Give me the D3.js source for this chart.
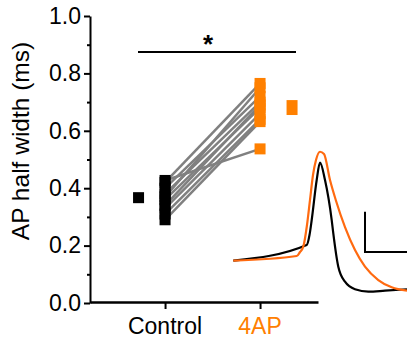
<!DOCTYPE html>
<html><head><meta charset="utf-8">
<script src="https://cdn.jsdelivr.net/npm/d3@7"></script>
<style>
html,body{margin:0;padding:0;background:#fff;}
svg{display:block;font-family:"Liberation Sans",Arial,sans-serif;}
</style></head>
<body>
<svg id="chart" width="407" height="339"></svg>
<script>
// ---- data ----
const groups = ["Control", "4AP"];
const controlValues = [0.427, 0.42, 0.40, 0.38, 0.37, 0.36, 0.34, 0.33, 0.31, 0.29];
const ap4Values     = [0.537, 0.765, 0.72, 0.70, 0.75, 0.68, 0.69, 0.66, 0.64, 0.632];
const groupMeans = [0.367, 0.681];
const groupSems  = [0.012, 0.026];
const yMajorTicks = [0, 0.2, 0.4, 0.6, 0.8, 1.0];
const yMinorTicks = [0.1, 0.3, 0.5, 0.7, 0.9];
const yTitle = "AP half width (ms)";
const sigLabel = "*";
// inset AP traces: time (ms), voltage (mV)
const traceControlT = [0, 1.468, 1.524, 1.568, 1.668, 1.734, 1.834, 1.968, 2.0, 2.1, 2.234, 2.434, 2.7, 3.034, 3.474];
const traceControlV = [-70, -56.9, -48.6, -36.1, -2.75, 11.7, -2.75, -36.1, -47.2, -75, -87.5, -93.8, -95.8, -95, -93.8];
const trace4apT = [0, 1.268, 1.334, 1.4, 1.474, 1.534, 1.594, 1.654, 1.734, 1.814, 1.934, 2.054, 2.234, 2.434, 2.634, 2.9, 3.168, 3.474];
const trace4apV = [-70, -66.1, -62.75, -58.3, -40.25, -19.4, 1.4, 13.9, 20.8, 18.9, -2.75, -20, -42, -61.1, -75, -86.1, -92.2, -95];
const scaleBarT = [2.634, 3.474]; // time span of horizontal bar
const scaleBarV = [-62.75, -29.2]; // voltage span of vertical bar

// ---- drawing ----
const svg = d3.select("#chart");
const orange = "#ff8000";
const traceOrange = "#ff6a10";
const grey = "#808080";

const y = d3.scaleLinear().domain([0, 1]).range([303, 16]);
const x = d3.scaleLinear().domain([-0.79, 1.61]).range([90, 318]);
const markerSize = 11;
const meanOffset = [-26.5, 32];

// y axis major
const yAxis = svg.append("g").attr("transform", "translate(90,0)")
  .call(d3.axisLeft(y).tickValues(yMajorTicks).tickFormat(d3.format(".1f")).tickSize(6).tickPadding(3).tickSizeOuter(0));
yAxis.select(".domain").attr("stroke-width", 2);
yAxis.selectAll(".tick line").attr("stroke-width", 2);
yAxis.selectAll("text").attr("font-size", 23).attr("fill", "#000");
const yMinor = svg.append("g").attr("transform", "translate(90,0)")
  .call(d3.axisLeft(y).tickValues(yMinorTicks).tickFormat("").tickSize(3).tickSizeOuter(0));
yMinor.select(".domain").remove();
yMinor.selectAll(".tick line").attr("stroke-width", 2);

// x axis
const xAxis = svg.append("g").attr("transform", "translate(0,302)")
  .call(d3.axisBottom(x).tickValues([0, 1]).tickFormat("").tickSize(7).tickSizeOuter(0));
xAxis.select(".domain").attr("stroke-width", 2.5);
xAxis.selectAll(".tick line").attr("stroke-width", 2);
svg.selectAll(".xlab").data(groups).enter().append("text")
  .attr("x", (d, i) => x(i)).attr("y", 334).attr("text-anchor", "middle")
  .attr("font-size", 23).attr("fill", (d, i) => i === 0 ? "#000" : orange).text(d => d);

// y title
svg.append("text").attr("transform", "translate(29,141) rotate(-90)")
  .attr("text-anchor", "middle").attr("font-size", 24.5).text(yTitle);

// significance
svg.append("line").attr("x1", 138).attr("x2", 296).attr("y1", 52).attr("y2", 52)
  .attr("stroke", "#000").attr("stroke-width", 2);
svg.append("text").attr("x", 208).attr("y", 53).attr("text-anchor", "middle")
  .attr("font-size", 26).attr("font-weight", "bold").text(sigLabel);

// paired lines
const pairs = controlValues.map((c, i) => [c, ap4Values[i]]);
svg.selectAll(".pair").data(pairs).enter().append("line")
  .attr("x1", x(0)).attr("x2", x(1))
  .attr("y1", d => y(d[0])).attr("y2", d => y(d[1]))
  .attr("stroke", grey).attr("stroke-width", 2.5);

// points
[[controlValues, "#000"], [ap4Values, orange]].forEach(([vals, col], gi) => {
  svg.selectAll(".pt" + gi).data(vals).enter().append("rect")
    .attr("x", x(gi) - markerSize / 2).attr("y", d => y(d) - markerSize / 2)
    .attr("width", markerSize).attr("height", markerSize).attr("fill", col);
});

// means
groupMeans.forEach((m, gi) => {
  const h = Math.max(markerSize, y(m - groupSems[gi]) - y(m + groupSems[gi]));
  svg.append("rect").attr("x", x(gi) + meanOffset[gi] - markerSize / 2)
    .attr("y", y(m) - h / 2).attr("width", markerSize).attr("height", h)
    .attr("fill", gi === 0 ? "#000" : orange);
});

// inset traces
const tx = d3.scaleLinear().domain([0, 3.48]).range([233.3, 407.3]);
const ty = d3.scaleLinear().domain([-70, 40]).range([260.7, 128.7]);
const line = d3.line().x(d => tx(d[0])).y(d => ty(d[1])).curve(d3.curveMonotoneX);
svg.append("path").attr("d", line(traceControlT.map((t, i) => [t, traceControlV[i]])))
  .attr("fill", "none").attr("stroke", "#000").attr("stroke-width", 2.2);
svg.append("path").attr("d", line(trace4apT.map((t, i) => [t, trace4apV[i]])))
  .attr("fill", "none").attr("stroke", traceOrange).attr("stroke-width", 2.2);
// scale bar
svg.append("path")
  .attr("d", `M${tx(scaleBarT[0])},${ty(scaleBarV[1])}V${ty(scaleBarV[0])}H${tx(scaleBarT[1])}`)
  .attr("fill", "none").attr("stroke", "#000").attr("stroke-width", 2);
</script>
</body></html>
